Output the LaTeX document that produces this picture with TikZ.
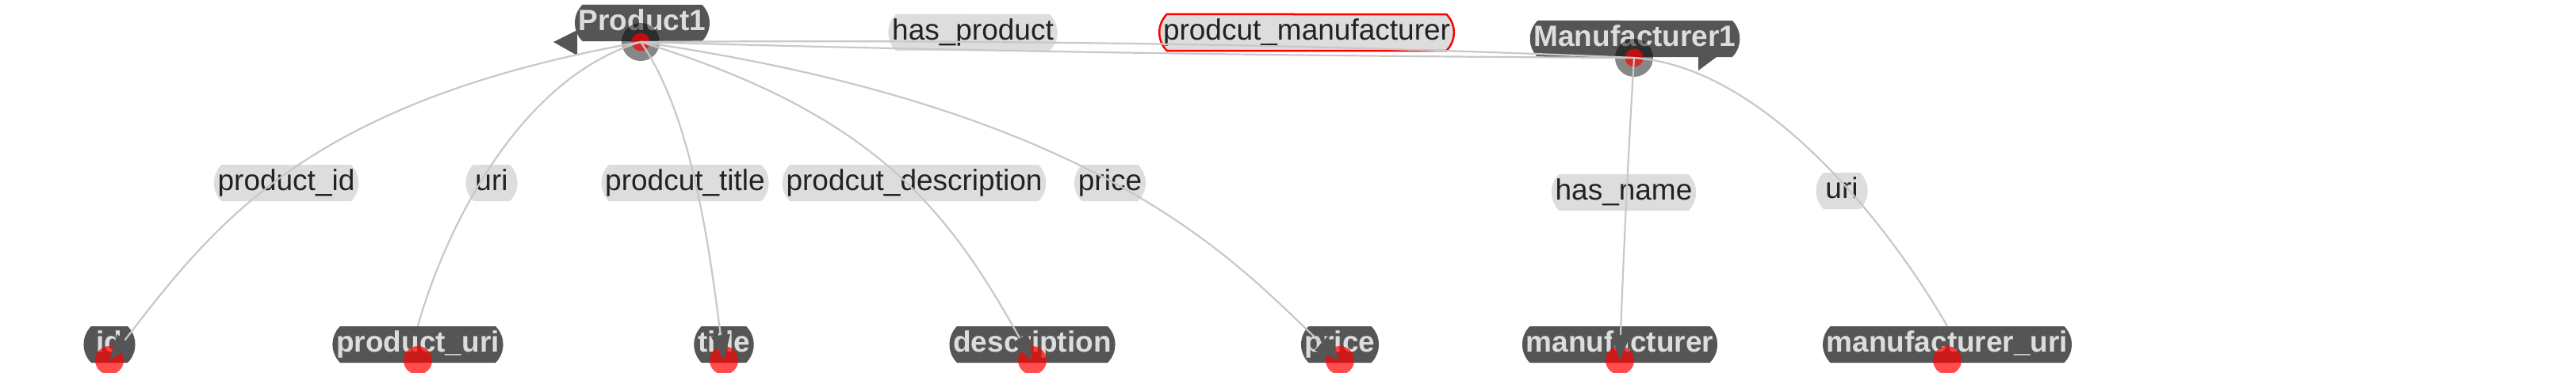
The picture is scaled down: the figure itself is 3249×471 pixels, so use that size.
\documentclass[tikz,border=0pt]{standalone}
\usepackage{fontspec}
\setmainfont{Liberation Sans}
\usetikzlibrary{shapes.misc,arrows.meta}
\definecolor{edgegray}{HTML}{C8C8C8}
\definecolor{labelfill}{HTML}{DDDDDD}
\definecolor{boxfill}{HTML}{555555}
\definecolor{boxtext}{HTML}{DDDDDD}
\definecolor{labeltext}{HTML}{222222}
\definecolor{dotred}{HTML}{FF0000}
\begin{document}
\begin{tikzpicture}[x=1pt,y=-1pt,
  lbl/.style={rounded rectangle, rounded rectangle arc length=90, fill=labelfill, text=labeltext,
    font=\fontsize{37}{42}\selectfont, inner xsep=0pt, inner ysep=6pt, text height=26.5pt, text depth=7.5pt},
  selbl/.style={lbl, draw=red, line width=2.5pt},
  obj/.style={rounded rectangle, rounded rectangle arc length=90, fill=boxfill, text=boxtext,
    font=\fontsize{37}{42}\selectfont\bfseries, inner xsep=0pt, inner ysep=6pt, text height=26.5pt, text depth=7.5pt},
  topdot/.style={circle, fill=dotred, fill opacity=0.7, minimum size=23pt, inner sep=0pt},
  botdot/.style={circle, fill=dotred, fill opacity=0.7, minimum size=36pt, inner sep=0pt},
  halo/.style={circle, fill=black, fill opacity=0.47, minimum size=48pt, inner sep=0pt},
  edge/.style={draw=edgegray, line width=2.2pt},
  tipd/.style={-{Triangle[length=32pt,width=24pt,color=boxfill]}}
]
\useasboundingbox (0,0) rectangle (3249,471);
% edge labels
\node[lbl] (lhp) at (1227,41) {has\_product};
\node[selbl] (lpm) at (1648,41) {prodcut\_manufacturer};
\node[lbl] (lpid) at (361,231) {product\_id};
\node[lbl] (luri) at (620,231) {uri};
\node[lbl] (lpt) at (864,231) {prodcut\_title};
\node[lbl] (lpd) at (1153,231) {prodcut\_description};
\node[lbl] (lpr) at (1400,231) {price};
\node[lbl] (lhn) at (2048,243) {has\_name};
\node[lbl] (luri2) at (2323,241) {uri};
% objects
\node[obj] (nP) at (810,29) {Product1};
\node[obj] (nM) at (2062,49) {Manufacturer1};
\fill[boxfill] (698,53) -- (728,38) -- (728,70) -- cycle;
\fill[boxfill] (2142,66) -- (2142,89) -- (2173,66) -- cycle;
\node[obj] (nId) at (138,435) {id};
\node[obj] (nPuri) at (527,435) {product\_uri};
\node[obj] (nTitle) at (913,435) {title};
\node[obj] (nDesc) at (1302,435) {description};
\node[obj] (nPrice) at (1690,435) {price};
\node[obj] (nManu) at (2043,435) {manufacturer};
\node[obj] (nMuri) at (2456,435) {manufacturer\_uri};
% dots
\node[halo] (hP) at (808,53) {};
\node[halo] (hM) at (2061,73) {};
\node[topdot] (dP) at (808,53) {};
\node[topdot] (dM) at (2061,73) {};
\node[botdot] (dId) at (138,455) {};
\node[botdot] (dPuri) at (527,455) {};
\node[botdot] (dTitle) at (913,455) {};
\node[botdot] (dDesc) at (1302,455) {};
\node[botdot] (dPrice) at (1690,455) {};
\node[botdot] (dManu) at (2043,455) {};
\node[botdot] (dMuri) at (2456,455) {};
% edges
\draw[edge] (dP.center) .. controls (1227,50) and (1644,55) .. (dM.center);
\draw[edge] (dP.center) .. controls (1227,65) and (1644,71) .. (dM.center);
\draw[edge,tipd] (dP.center) .. controls (394,127) and (275,276) .. (dId.center);
\draw[edge] (dP.center) .. controls (650,100) and (558,300) .. (nPuri.north);
\draw[edge,tipd] (dP.center) .. controls (874,146) and (896,324) .. (dTitle.center);
\draw[edge,tipd] (dP.center) .. controls (1114,146) and (1201,276) .. (dDesc.center);
\draw[edge,tipd] (dP.center) .. controls (1404,140) and (1565,340) .. (dPrice.center);
\draw[edge,tipd] (dM.center) .. controls (2056,150) and (2047,330) .. (dManu.center);
\draw[edge] (dM.center) .. controls (2230,85) and (2387,292) .. (nMuri.north);
\end{tikzpicture}
\end{document}
